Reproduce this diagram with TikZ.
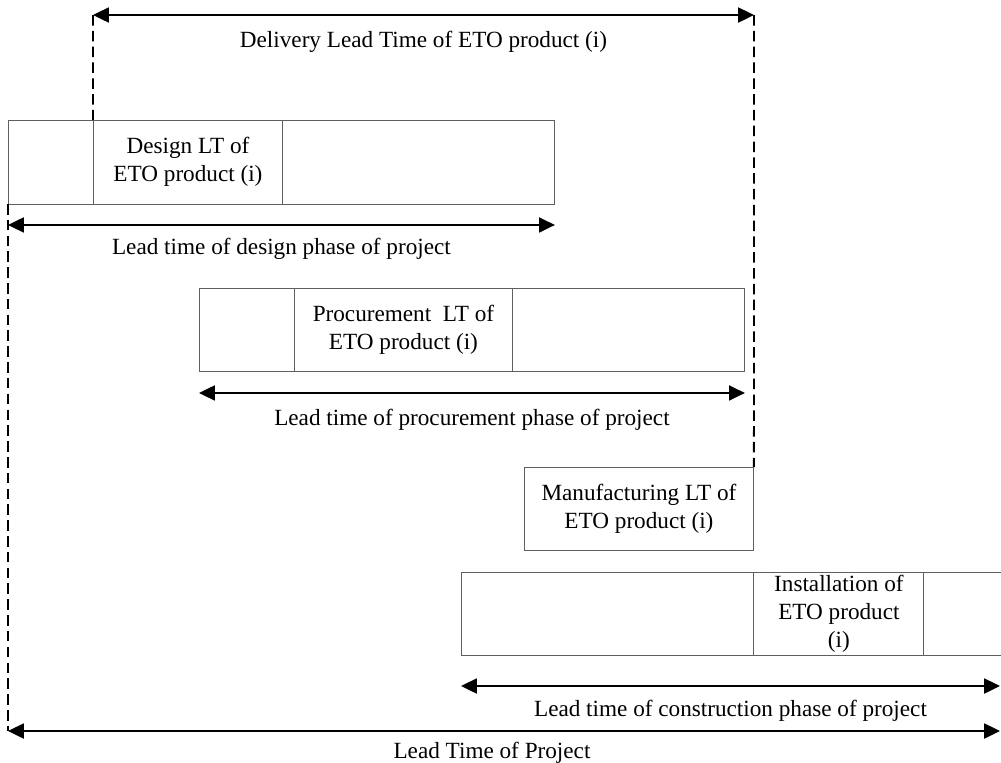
\documentclass[tikz,border=0pt]{standalone}
\usepackage{fontspec}
\setmainfont{Liberation Serif}
\usetikzlibrary{arrows.meta,positioning}
\definecolor{edge}{RGB}{95,95,95}
\tikzstyle{cell} = [
    rectangle,
    draw=edge,
    line width=0.55pt,
    inner sep=0pt,
    outer sep=0pt,
    align=center,
    font=\fontsize{13.2}{16}\selectfont
]
\tikzstyle{span} = [
    line width=1.15pt,
    {Triangle[length=9pt,width=8.5pt]}-{Triangle[length=9pt,width=8.5pt]}
]
\tikzstyle{guide} = [
    line width=1.1pt,
    dash pattern=on 6pt off 3pt
]
\tikzstyle{caption} = [
    inner sep=0pt,
    font=\fontsize{13.2}{16}\selectfont
]

\begin{document}
\begin{tikzpicture}[x=0.02cm, y=-0.02cm]
    \useasboundingbox (0,0) rectangle (1001,762);

    % design phase
    \node[cell, anchor=north west, minimum width=1.7cm, minimum height=1.68cm] (desA) at (8,120) {};
    \node[cell, right=0pt of desA, minimum width=3.8cm, minimum height=1.68cm] (desB) {Design LT of\\ETO product (i)};
    \node[cell, right=0pt of desB, minimum width=5.44cm, minimum height=1.68cm] (desC) {};
    \draw[span] ([yshift=-0.42cm]desA.south west) -- ([yshift=-0.42cm]desC.south east)
        node[caption, midway, yshift=-0.48cm] (desT) {Lead time of design phase of project};

    % procurement phase
    \node[cell, anchor=north west, minimum width=1.9cm, minimum height=1.66cm] (proA) at (199,288) {};
    \node[cell, right=0pt of proA, minimum width=4.38cm, minimum height=1.66cm] (proB) {Procurement\ \ LT of\\ETO product (i)};
    \node[cell, right=0pt of proB, minimum width=4.64cm, minimum height=1.66cm] (proC) {};
    \draw[span] ([yshift=-0.44cm]proA.south west) -- ([yshift=-0.44cm]proC.south east)
        node[caption, midway, yshift=-0.54cm] (proT) {Lead time of procurement phase of project};

    % manufacturing
    \node[cell, anchor=north west, minimum width=4.6cm, minimum height=1.66cm] (manA) at (524,467) {Manufacturing LT of\\ETO product (i)};

    % construction phase
    \node[cell, anchor=north west, minimum width=5.86cm, minimum height=1.66cm] (insA) at (461,572) {};
    \node[cell, right=0pt of insA, minimum width=3.4cm, minimum height=1.66cm] (insB) {Installation of\\ETO product\\(i)};
    \node[cell, right=0pt of insB, minimum width=1.6cm, minimum height=1.66cm] (insC) {};
    \coordinate (conL) at (461,686);
    \coordinate (conR) at (1000,686);
    \draw[span] (conL) -- (conR)
        node[caption, midway, yshift=-0.5cm] (conT) {Lead time of construction phase of project};

    % delivery lead time
    \coordinate (dlvL) at (93,15);
    \coordinate (dlvR) at (754,15);
    \draw[guide] (dlvL) -- (desB.north west);
    \draw[guide] (dlvR) -- (manA.north east);
    \draw[span] (dlvL) -- (dlvR)
        node[caption, midway, yshift=-0.54cm] (dlvT) {Delivery Lead Time of ETO product (i)};

    % project
    \coordinate (prjL) at (8,731);
    \coordinate (prjR) at (1000,731);
    \draw[guide] (desA.south west) -- (prjL);
    \draw[span] (prjL) -- (prjR)
        node[caption, midway, yshift=-0.44cm, xshift=-0.24cm] (prjT) {Lead Time of Project};
\end{tikzpicture}
\end{document}
